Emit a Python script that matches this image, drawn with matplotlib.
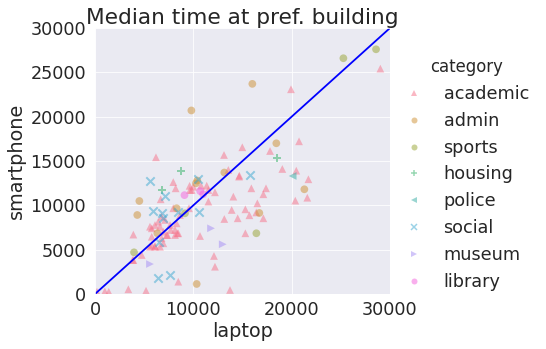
import matplotlib
matplotlib.use("Agg")
import matplotlib.pyplot as plt
from matplotlib.lines import Line2D
import seaborn as sns

sns.set_style("darkgrid")
plt.rcParams['font.family'] = ['DejaVu Sans']

categories = ["academic", "admin", "sports", "housing", "police", "social", "museum", "library"]
markers = ["^", "o", "o", "+", "<", "x", ">", "o"]

academic_x = [200, 1000, 1400, 3390, 5190, 8470, 13730, 3830, 4750, 3900, 12100, 12200, 10680,
              6200, 13120, 14980, 19930, 29020, 17800, 20750, 19050, 20470, 21700, 20370, 21590,
              14680, 15900, 17390, 17120, 14070, 16510, 13900, 15290, 15700, 16400, 17120, 15290,
              13560, 14650, 7960, 8200, 9620, 10780, 11530, 12200, 6680, 7960, 8640, 9560, 11530,
              13150, 14510, 6950, 9830, 11360, 5590, 6100, 6610, 6950, 7360, 7700, 8140, 8470,
              5770, 6100, 5590, 6440, 7630, 8140, 8370, 5770, 7290, 6780, 5770, 6100, 6610, 8300,
              6780, 7120, 9660, 10000, 3900]
academic_y = [260, 300, 250, 530, 370, 1390, 450, 3830, 4400, 6700, 4290, 3080, 6540,
              15420, 15680, 16550, 23090, 25420, 16130, 17220, 14100, 13910, 12940, 10530, 10860,
              13350, 11920, 11920, 11250, 10980, 10230, 9480, 9550, 8880, 9200, 8540, 6850,
              13990, 13240, 12620, 11920, 12200, 12220, 11730, 11470, 10680, 9670, 8910, 9670, 10420,
              8460, 8540, 5720, 11730, 12220, 7590, 7780, 7590, 7030, 6650, 7220, 6650, 6850,
              6460, 5410, 5330, 8160, 7780, 7220, 6850, 7410, 6650, 6280, 5530, 5330, 5330, 7970,
              8720, 8350, 11730, 12100, 3830]
admin_x = [9800, 16000, 18440, 21290, 16710, 13150, 10270, 4510, 4300, 8300, 6340, 10340, 10400]
admin_y = [20700, 23700, 17000, 11810, 9140, 13700, 12490, 10490, 8910, 9670, 6850, 1130, 12800]
sports_x = [25260, 28580, 16410, 3970, 9150]
sports_y = [26590, 27600, 6850, 4700, 9100]
housing_x = [8710, 6780, 18480]
housing_y = [13900, 11770, 15300]
police_x = [20100]
police_y = [13310]
social_x = [5620, 10510, 15800, 7120, 5860, 6780, 6950, 10580, 6540, 6440, 7630, 8400]
social_y = [12800, 12950, 13420, 11090, 9360, 9100, 8540, 9290, 5900, 1770, 2140, 9300]
museum_x = [5590, 11800, 12990]
museum_y = [3380, 7410, 5610]
library_x = [9100, 11000, 10700]
library_y = [11150, 11250, 11600]

xs = [academic_x, admin_x, sports_x, housing_x, police_x, social_x, museum_x, library_x]
ys = [academic_y, admin_y, sports_y, housing_y, police_y, social_y, museum_y, library_y]

line_x = [0, 30000]
line_y = [0, 30000]

colors = sns.color_palette("husl", 8)

fig = plt.figure(figsize=(546 / 72, 349 / 72), dpi=72)
ax = fig.add_axes([95 / 546, 1 - 294 / 349, 295 / 546, 266 / 349])

for cat, m, c, x, y in zip(categories, markers, colors, xs, ys):
    if m in ("+", "x"):
        ax.scatter(x, y, marker=m, s=70, color=c, alpha=0.5, linewidths=2)
    else:
        ax.scatter(x, y, marker=m, s=60, color=c, alpha=0.5, edgecolors="none")

ax.plot(line_x, line_y, color="blue", linewidth=1.8)

ax.set_xlim(0, 30000)
ax.set_ylim(0, 30000)
ax.set_xticks([0, 10000, 20000, 30000])
ax.set_yticks([0, 5000, 10000, 15000, 20000, 25000, 30000])
ax.tick_params(labelsize=17.6, length=0)
ax.tick_params(axis="x", pad=7)
ax.tick_params(axis="y", pad=9)
ax.set_xlabel("laptop", fontsize=19.2, labelpad=3)
ax.set_ylabel("smartphone", fontsize=19.2, labelpad=4)
ax.set_title("Median time at pref. building", fontsize=21.6, pad=4)

handles = []
for cat, m, c in zip(categories, markers, colors):
    if m in ("+", "x"):
        h = Line2D([], [], linestyle="none", marker=m, markersize=6, color=c, alpha=0.5,
                   markeredgewidth=1.5)
    else:
        h = Line2D([], [], linestyle="none", marker=m, markersize=6, color=c, alpha=0.5,
                   markeredgewidth=0)
    handles.append(h)
leg = fig.legend(handles, categories, title="category", frameon=False, fontsize=17.6,
                 title_fontsize=16.5, loc="center left", bbox_to_anchor=(389 / 546, 0.5),
                 handlelength=1.0, handletextpad=1.2, labelspacing=0.5)

fig.savefig("out.png", dpi=72)
